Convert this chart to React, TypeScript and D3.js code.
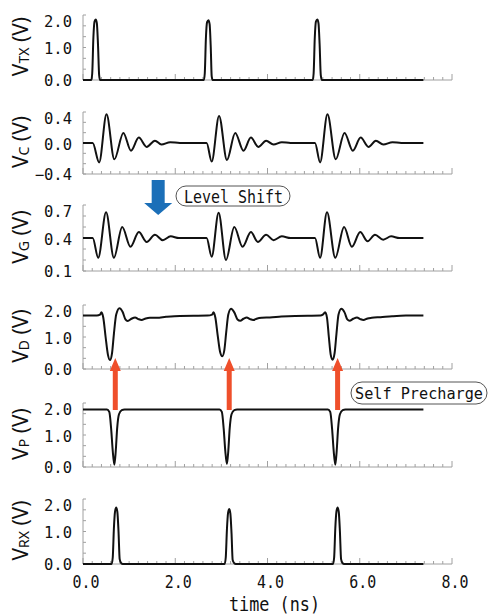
import React from "react";
import * as d3 from "d3";

type Pt = [number, number];

// time axis (ns)
const timeTicks = [0, 2, 4, 6, 8];

// waveforms: [time (ns), volts]
const vTX: Pt[] = [
  [0, 0], [0.18, 0], [0.2, 0.2], [0.225, 1.3], [0.25, 1.8], [0.275, 1.86], [0.3, 1.75], [0.325, 1.1], [0.35, 0.15], [0.37, 0],
  [2.62, 0], [2.64, 0.2], [2.665, 1.3], [2.69, 1.78], [2.72, 1.84], [2.745, 1.72], [2.77, 1.0], [2.79, 0.12], [2.81, 0],
  [4.98, 0], [5.0, 0.2], [5.025, 1.3], [5.05, 1.8], [5.08, 1.86], [5.105, 1.75], [5.13, 1.1], [5.155, 0.15], [5.18, 0],
  [7.38, 0],
];

const vC: Pt[] = [
  [0, 0], [0.21, 0], [0.35, -0.25], [0.51, 0.37], [0.68, -0.21], [0.875, 0.13], [1.04, -0.1], [1.21, 0.07],
  [1.38, -0.05], [1.56, 0.03], [1.7, -0.02], [1.89, 0.01], [2.1, 0],
  [2.68, 0], [2.79, -0.24], [2.95, 0.35], [3.12, -0.22], [3.3, 0.13], [3.48, -0.1], [3.64, 0.07],
  [3.8, -0.05], [3.97, 0.03], [4.13, -0.02], [4.31, 0.01], [4.5, 0],
  [5.03, 0], [5.14, -0.25], [5.3, 0.37], [5.48, -0.21], [5.67, 0.13], [5.85, -0.1], [6.02, 0.07],
  [6.19, -0.05], [6.35, 0.03], [6.51, -0.02], [6.71, 0.01], [6.9, 0],
  [7.38, 0],
];

const vG: Pt[] = [
  [0, 0.4], [0.21, 0.4], [0.33, 0.22], [0.5, 0.634], [0.67, 0.22], [0.85, 0.5], [1.03, 0.32], [1.21, 0.454],
  [1.38, 0.364], [1.56, 0.43], [1.73, 0.38], [1.9, 0.415], [2.08, 0.4],
  [2.68, 0.4], [2.79, 0.23], [2.94, 0.63], [3.1, 0.2], [3.28, 0.5], [3.46, 0.32], [3.64, 0.454],
  [3.79, 0.364], [3.97, 0.43], [4.13, 0.38], [4.31, 0.415], [4.5, 0.4],
  [5.03, 0.4], [5.14, 0.22], [5.29, 0.634], [5.47, 0.22], [5.66, 0.5], [5.83, 0.32], [6.01, 0.454],
  [6.17, 0.37], [6.33, 0.43], [6.51, 0.385], [6.68, 0.415], [6.86, 0.4],
  [7.38, 0.4],
];

const vD: Pt[] = [
  [0, 1.67], [0.3, 1.67], [0.37, 1.7], [0.4, 1.77], [0.44, 1.6], [0.49, 1.0], [0.54, 0.45], [0.585, 0.28],
  [0.63, 0.5], [0.67, 1.1], [0.72, 1.7], [0.79, 1.9], [0.86, 1.78], [0.92, 1.55], [0.97, 1.5], [1.05, 1.57],
  [1.13, 1.61], [1.2, 1.56], [1.27, 1.53], [1.36, 1.58], [1.45, 1.6], [1.6, 1.6], [1.8, 1.63], [2.1, 1.66],
  [2.7, 1.67], [2.8, 1.7], [2.83, 1.77], [2.87, 1.6], [2.92, 1.05], [2.97, 0.55], [3.02, 0.4], [3.065, 0.6],
  [3.105, 1.15], [3.15, 1.7], [3.21, 1.88], [3.28, 1.77], [3.35, 1.55], [3.41, 1.51], [3.48, 1.57],
  [3.55, 1.61], [3.62, 1.56], [3.69, 1.53], [3.78, 1.58], [3.88, 1.6], [4.05, 1.61], [4.3, 1.64], [4.6, 1.66],
  [5.15, 1.67], [5.2, 1.7], [5.25, 1.77], [5.29, 1.6], [5.33, 1.0], [5.37, 0.45], [5.41, 0.29], [5.455, 0.5],
  [5.495, 1.1], [5.54, 1.7], [5.6, 1.88], [5.67, 1.77], [5.73, 1.55], [5.78, 1.51], [5.86, 1.57],
  [5.94, 1.61], [6.01, 1.56], [6.08, 1.53], [6.17, 1.58], [6.26, 1.6], [6.45, 1.62], [6.7, 1.65], [7.0, 1.67],
  [7.38, 1.67],
];

const vP: Pt[] = [
  [0, 1.8], [0.52, 1.8], [0.57, 1.72], [0.61, 1.2], [0.645, 0.5], [0.68, 0.07], [0.71, 0.5], [0.74, 1.2],
  [0.78, 1.65], [0.84, 1.78], [0.9, 1.8],
  [2.96, 1.8], [3.01, 1.72], [3.05, 1.2], [3.085, 0.5], [3.12, 0.09], [3.15, 0.5], [3.18, 1.2],
  [3.22, 1.65], [3.28, 1.78], [3.34, 1.8],
  [5.31, 1.8], [5.36, 1.72], [5.4, 1.2], [5.435, 0.5], [5.47, 0.07], [5.5, 0.5], [5.53, 1.2],
  [5.57, 1.65], [5.63, 1.78], [5.69, 1.8],
  [7.38, 1.8],
];

const vRX: Pt[] = [
  [0, 0], [0.62, 0], [0.645, 0.2], [0.67, 1.1], [0.695, 1.62], [0.72, 1.74], [0.745, 1.6], [0.77, 1.0],
  [0.795, 0.15], [0.83, 0.02], [0.86, 0],
  [3.07, 0], [3.095, 0.2], [3.12, 1.05], [3.145, 1.57], [3.17, 1.69], [3.195, 1.55], [3.22, 0.95],
  [3.245, 0.12], [3.28, 0.02], [3.31, 0],
  [5.42, 0], [5.445, 0.2], [5.47, 1.1], [5.495, 1.62], [5.52, 1.74], [5.545, 1.6], [5.57, 1.0],
  [5.595, 0.15], [5.63, 0.02], [5.66, 0],
  [7.38, 0],
];

const panelNames = ["TX", "C", "G", "D", "P", "RX"];
const panelDomains: [number, number][] = [[0, 2], [-0.4, 0.4], [0.1, 0.7], [0, 2], [0, 2], [0, 2]];
const panelTicks = [[0, 1, 2], [-0.4, 0, 0.4], [0.1, 0.4, 0.7], [0, 1, 2], [0, 1, 2], [0, 1, 2]];
const panelSeries = [vTX, vC, vG, vD, vP, vRX];

// annotations
const precharge = [0.7, 3.17, 5.52];
const levelShiftAt = 1.63;

// layout
const W = 491;
const H = 615;
const panelTop = [15, 112, 205, 305, 403, 499];
const panelBottom = [80, 174, 271, 369, 467, 564];

const x = d3.scaleLinear().domain([0, 8]).range([83, 452]);
const mono = "'DejaVu Sans Mono', monospace";
const AXIS = "#a0a0a0";
const fmt = d3.format(".1f");

function Panel({ i }: { i: number }) {
  const [d0, d1] = panelDomains[i];
  const y = d3.scaleLinear().domain([d0, d1]).range([panelBottom[i], panelTop[i]]);
  const line = d3
    .line<Pt>()
    .x((d) => x(d[0]))
    .y((d) => y(d[1]))
    .curve(d3.curveMonotoneX);
  const yMinor = d3.range(7).map((k) => d0 + (k * (d1 - d0)) / 6);
  const xMinor = x.ticks(40);
  const yb = panelBottom[i];
  const ticks = panelTicks[i];

  return (
    <g>
      {/* axes */}
      <line x1={x(0)} x2={x(8)} y1={yb} y2={yb} stroke={AXIS} strokeWidth={1} />
      <line x1={x(0)} x2={x(0)} y1={panelTop[i]} y2={yb} stroke={AXIS} strokeWidth={1} />
      {xMinor.map((t) => {
        const major = Math.abs(t / 2 - Math.round(t / 2)) < 1e-6;
        return (
          <line key={t} x1={x(t)} x2={x(t)} y1={yb} y2={yb - (major ? 6 : 3)} stroke={AXIS} strokeWidth={1} />
        );
      })}
      {yMinor.map((v, k) => (
        <line key={k} x1={x(0)} x2={x(0) + 3} y1={y(v)} y2={y(v)} stroke={AXIS} strokeWidth={1} />
      ))}
      {ticks.map((v, k) => {
        const off = k === 0 ? 0 : k === ticks.length - 1 ? 6 : 1;
        return (
          <text key={v} x={72} y={y(v) + off + 5.5} textAnchor="end" fontFamily={mono} fontSize={15.5} fill="#111">
            {fmt(v)}
          </text>
        );
      })}
      <text
        transform={`translate(28, ${(panelTop[i] + yb) / 2 - 1}) rotate(-90)`}
        textAnchor="middle"
        fontFamily="'Noto Sans', sans-serif"
        fontSize={21}
        fill="#111"
      >
        V<tspan fontSize={14} dy={1}>{panelNames[i]}</tspan>
        <tspan dy={-1}> (V)</tspan>
      </text>
      <path d={line(panelSeries[i]) ?? ""} fill="none" stroke="#111" strokeWidth={2} strokeLinejoin="round" />
    </g>
  );
}

export default function App() {
  const bx = x(levelShiftAt);
  return (
    <svg
      width={W}
      height={H}
      viewBox={`0 0 ${W} ${H}`}
      style={{ position: "absolute", left: 0, top: 0, background: "#fff" }}
    >
      <rect width={W} height={H} fill="#fff" />
      {panelNames.map((_, i) => (
        <Panel key={i} i={i} />
      ))}

      {/* time axis labels */}
      {timeTicks.map((t) => (
        <text key={t} x={x(t) + 3} y={588} textAnchor="middle" fontFamily={mono} fontSize={18} textLength={27} lengthAdjust="spacingAndGlyphs" fill="#111">
          {fmt(t)}
        </text>
      ))}
      <text x={274.5} y={611} textAnchor="middle" fontFamily={mono} fontSize={19} textLength={91} lengthAdjust="spacingAndGlyphs" fill="#111">
        time (ns)
      </text>

      {/* level shift arrow */}
      <path
        d={`M${bx - 6.5},180 H${bx + 6.5} V203 H${bx + 14} L${bx},215 L${bx - 14},203 H${bx - 6.5} Z`}
        fill="#1b6fb8"
      />
      <rect x={176} y={186} width={114} height={20} rx={10} fill="#fff" stroke="#555" strokeWidth={1} />
      <text x={233.5} y={203} textAnchor="middle" fontFamily={mono} fontSize={18} textLength={99} lengthAdjust="spacingAndGlyphs" fill="#111">
        Level Shift
      </text>

      {/* self precharge arrows */}
      {precharge.map((t) => {
        const ax = x(t);
        return (
          <path
            key={t}
            d={`M${ax - 2.5},410 V371 H${ax - 5.5} L${ax},358 L${ax + 5.5},371 H${ax + 2.5} V410 Z`}
            fill="#ef4f2b"
          />
        );
      })}
      <rect x={351} y={382} width={136} height={22} rx={11} fill="#fff" stroke="#555" strokeWidth={1} />
      <text x={419} y={399} textAnchor="middle" fontFamily={mono} fontSize={15.2} fill="#111">
        Self Precharge
      </text>
    </svg>
  );
}
